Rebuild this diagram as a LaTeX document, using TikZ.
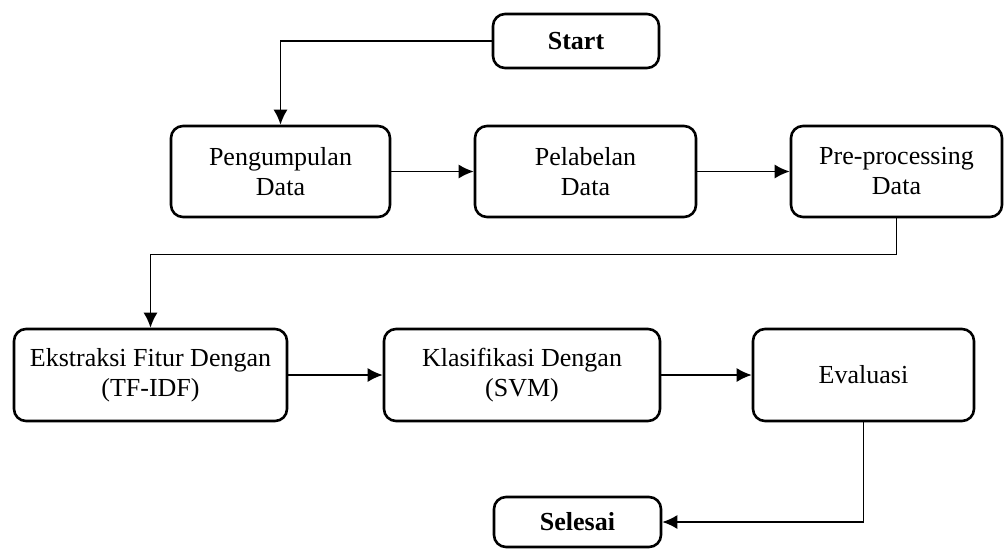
\documentclass[tikz,border=0pt]{standalone}
\usepackage{fontspec}
\setmainfont{Liberation Serif}
\usepackage{tikz}
\usetikzlibrary{arrows.meta}
\tikzset{
    stepBox/.style={
		draw=black, line width=2.6pt, rounded corners=12pt,
		align=center, inner sep=2pt,
		font=\fontsize{26}{30}\selectfont
	}
}
\tikzset{
    flowArrow/.style={
		draw=black, line width=1.6pt,
		-{Latex[length=15pt,width=14pt]}
	}
}

\begin{document}
\begin{tikzpicture}[x=1pt,y=-1pt]
			\useasboundingbox (0,0) rectangle (1005,550);
			\node[stepBox, minimum width=166pt, minimum height=54pt, font=\fontsize{26}{30}\selectfont\bfseries] (start) at (576,41) {Start};
			\node[stepBox, minimum width=219pt, minimum height=91pt] (pengumpulan) at (280.5,171.5) {Pengumpulan\\Data};
			\node[stepBox, minimum width=221pt, minimum height=91pt] (pelabelan) at (585.5,171.5) {Pelabelan\\Data};
			\node[stepBox, minimum width=211pt, minimum height=91pt] (preprocessing) at (896.5,171.5) {Pre-processing\\Data};
			\node[stepBox, minimum width=273pt, minimum height=92pt] (ekstraksi) at (150.5,375) {Ekstraksi Fitur Dengan\\(TF-IDF)};
			\node[stepBox, minimum width=276pt, minimum height=92pt] (klasifikasi) at (522,375) {Klasifikasi Dengan\\(SVM)};
			\node[stepBox, minimum width=221pt, minimum height=92pt] (evaluasi) at (863.5,375) {Evaluasi};
			\node[stepBox, minimum width=167pt, minimum height=50pt, font=\fontsize{26}{30}\selectfont\bfseries] (selesai) at (577.5,522) {Selesai};
			% alur proses
			\draw[flowArrow] (start.west) -| (pengumpulan.north);
			\draw[flowArrow] (pengumpulan) -- (pelabelan);
			\draw[flowArrow] (pelabelan) -- (preprocessing);
			\draw[flowArrow] (preprocessing.south) -- ++(0,36) -| (ekstraksi.north);
			\draw[flowArrow] (ekstraksi) -- (klasifikasi);
			\draw[flowArrow] (klasifikasi) -- (evaluasi);
			\draw[flowArrow] (evaluasi.south) |- (selesai.east);
		\end{tikzpicture}
\end{document}
